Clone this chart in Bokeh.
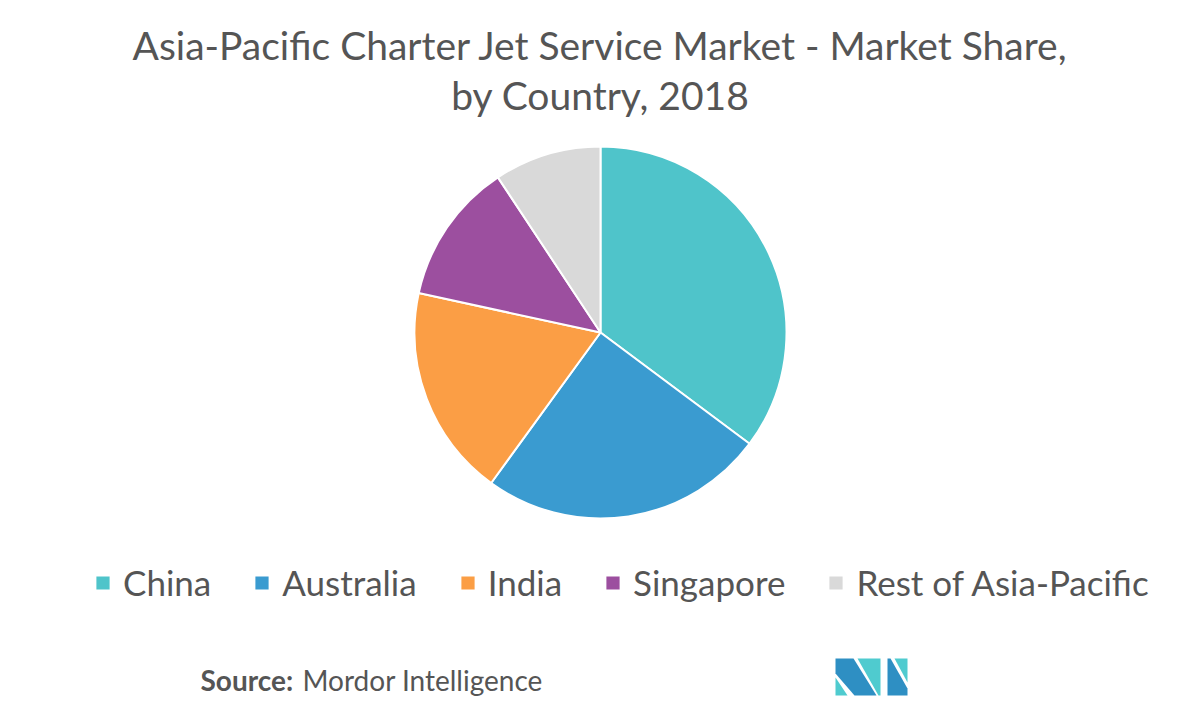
import math
from bokeh.plotting import figure
from bokeh.models import Range1d, Legend, LegendItem, ColumnDataSource
from bokeh.core.properties import value
from bokeh.embed import file_html
from bokeh.resources import INLINE

countries = ["China", "Australia", "India", "Singapore", "Rest of Asia-Pacific"]
shares = [35.2, 24.8, 18.4, 12.3, 9.3]
colors = ["#4FC4CA", "#3A9BD0", "#FB9E45", "#9C4F9F", "#D9D9D9"]
title_lines = ["Asia-Pacific Charter Jet Service Market - Market Share,", "by Country, 2018"]

W, H = 1184, 704
p = figure(width=W, height=H, output_backend="svg", toolbar_location=None,
           x_range=Range1d(0, W), y_range=Range1d(720 - H, 720),
           min_border=0, outline_line_color=None)
p.axis.visible = False
p.grid.visible = False
p.background_fill_color = "white"

def Y(py):
    return 720 - py

total = sum(shares)
starts, ends = [], []
cum = 0.0
for s in shares:
    starts.append(math.pi / 2 - 2 * math.pi * cum / total)
    cum += s
    ends.append(math.pi / 2 - 2 * math.pi * cum / total)

src = ColumnDataSource(dict(country=countries, share=shares, color=colors,
                            start=starts, end=ends))
cx, cy, r = 600, Y(332), 186
wr = p.wedge(x=cx, y=cy, radius=r, start_angle="start", end_angle="end",
             direction="clock", fill_color="color", line_color="white",
             line_width=2, source=src)

items = [LegendItem(label=c, renderers=[wr], index=i) for i, c in enumerate(countries)]
legend = Legend(items=items, orientation="horizontal", location=(93, 101),
                label_text_font="Lato", label_text_font_size="35px",
                label_text_color="#555555", glyph_width=19, glyph_height=19,
                label_standoff=11, spacing=41, border_line_color=None,
                background_fill_alpha=0, padding=0, margin=0,
                label_height=35)
p.add_layout(legend, "center")

font = value("Lato")
p.text(x=[600, 600], y=[Y(44), Y(94)], text=title_lines, text_font=font,
       text_font_size="39px", text_color="#555555", text_align="center",
       text_baseline="middle")

p.text(x=[200], y=[Y(679)], text=["Source:"], text_font=font, text_font_size="28px",
       text_font_style="bold", text_color="#555555", text_baseline="middle")
p.text(x=[302], y=[Y(679)], text=["Mordor Intelligence"], text_font=font,
       text_font_size="28px", text_color="#555555", text_baseline="middle")

dark, teal = "#2E8FC3", "#4FCBCF"
logo_x = [[835, 853, 876, 854, 835], [835, 847, 835], [857, 880, 880, 878],
          [887, 890, 907, 907, 887], [894, 907, 907]]
logo_y = [[658, 658, 695, 695, 673], [677, 695, 695], [658, 658, 695, 695],
          [658, 658, 688, 695, 695], [658, 658, 682]]
p.patches(xs=logo_x, ys=[[Y(v) for v in ys] for ys in logo_y],
          fill_color=[dark, teal, teal, dark, teal], line_color=None)

open("out.html", "w").write(file_html(p, INLINE))
